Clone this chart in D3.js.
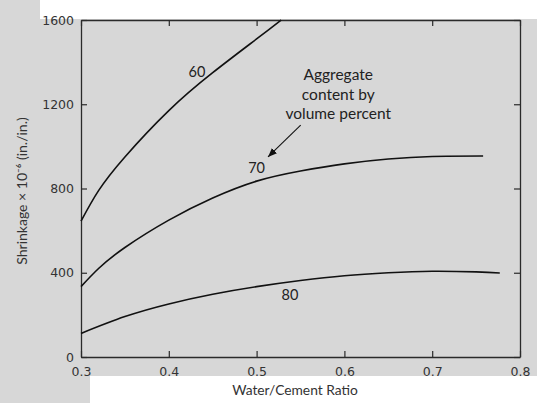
<!DOCTYPE html>
<html>
<head>
<meta charset="utf-8">
<script src="https://cdn.jsdelivr.net/npm/d3@7"></script>
<style>
  html, body { margin: 0; padding: 0; background: #ffffff; }
  svg { display: block; }
</style>
</head>
<body>
<svg id="chart" width="537" height="403"></svg>
<script>
// ---- data ----
const xTicks = [0.3, 0.4, 0.5, 0.6, 0.7, 0.8];
const yTicks = [0, 400, 800, 1200, 1600];

const wc60 = [0.300, 0.320, 0.350, 0.400, 0.450, 0.500, 0.528];
const sh60 = [645, 790, 950, 1170, 1350, 1510, 1600];

const wc70 = [0.300, 0.320, 0.350, 0.400, 0.450, 0.500, 0.550, 0.600, 0.650, 0.700, 0.758];
const sh70 = [334, 420, 520, 650, 755, 835, 883, 917, 940, 952, 954];

const wc80 = [0.300, 0.350, 0.400, 0.450, 0.500, 0.550, 0.600, 0.650, 0.700, 0.750, 0.777];
const sh80 = [112, 192, 252, 298, 334, 363, 386, 400, 407, 404, 399];

const seriesNames = ["60", "70", "80"];
const labelX = [0.432, 0.500, 0.538];
const labelY = [1353, 897, 294];

const noteLines = ["Aggregate", "content by", "volume percent"];

// ---- layout ----
const svg = d3.select("#chart");
const W = 537, H = 403;
const x = d3.scaleLinear().domain([0.3, 0.8]).range([81, 520]);
const y = d3.scaleLinear().domain([0, 1600]).range([357, 20]);

// watermark-like background
const bg = svg.append("g");
bg.append("rect").attr("width", W).attr("height", H).attr("fill", "#d7d7d7");
bg.append("rect").attr("x", 40).attr("y", 0).attr("width", W - 40).attr("height", 19).attr("fill", "#fff");
bg.append("rect").attr("x", 90).attr("y", 376).attr("width", W - 90).attr("height", 27).attr("fill", "#fff");

const axisColor = "#2a2a2a";
const tickFont = "'DejaVu Sans', sans-serif";

// axes
const gx = svg.append("g").attr("transform", `translate(0,${y(0)})`)
  .call(d3.axisBottom(x).tickValues(xTicks).tickFormat(d3.format(".1f")).tickSize(-6).tickPadding(10).tickSizeOuter(0));
const gxTop = svg.append("g").attr("transform", `translate(0,${y(1600)})`)
  .call(d3.axisTop(x).tickValues(xTicks).tickFormat("").tickSize(-6).tickSizeOuter(0));
const gy = svg.append("g").attr("transform", `translate(${x(0.3)},0)`)
  .call(d3.axisLeft(y).tickValues(yTicks).tickFormat(d3.format("d")).tickSize(-6).tickPadding(7).tickSizeOuter(0));
const gyR = svg.append("g").attr("transform", `translate(${x(0.8)},0)`)
  .call(d3.axisRight(y).tickValues(yTicks).tickFormat("").tickSize(-6).tickSizeOuter(0));

[gx, gxTop, gy, gyR].forEach(g => {
  g.selectAll(".domain").attr("stroke", axisColor).attr("stroke-width", 1.3);
  g.selectAll(".tick line").attr("stroke", axisColor).attr("stroke-width", 1.2);
  g.selectAll(".tick text").attr("fill", "#333").style("font-family", tickFont).style("font-size", "12.5px");
});

// curves
const line = d3.line().x(d => x(d[0])).y(d => y(d[1])).curve(d3.curveNatural);
const series = [d3.zip(wc60, sh60), d3.zip(wc70, sh70), d3.zip(wc80, sh80)];
svg.append("g").selectAll("path").data(series).join("path")
  .attr("d", line).attr("fill", "none").attr("stroke", "#111").attr("stroke-width", 1.6);

// curve labels
const humanist = "Lato, 'Open Sans', sans-serif";
svg.append("g").selectAll("text").data(seriesNames).join("text")
  .attr("x", (d, i) => x(labelX[i])).attr("y", (d, i) => y(labelY[i]))
  .attr("dy", "0.35em").attr("text-anchor", "middle")
  .style("font-family", humanist).style("font-size", "14.5px").attr("fill", "#222")
  .text(d => d);

// annotation
svg.append("g").selectAll("text").data(noteLines).join("text")
  .attr("x", x(0.593)).attr("y", (d, i) => y(1315) + i * 19.5)
  .attr("text-anchor", "middle")
  .style("font-family", humanist).style("font-size", "15.5px").attr("fill", "#222")
  .text(d => d);

svg.append("defs").append("marker").attr("id", "arr")
  .attr("viewBox", "0 0 10 10").attr("refX", 10).attr("refY", 5)
  .attr("markerWidth", 9).attr("markerHeight", 9).attr("markerUnits", "userSpaceOnUse")
  .attr("orient", "auto")
  .append("path").attr("d", "M0,1 L10,5 L0,9 Z").attr("fill", "#111");
svg.append("line")
  .attr("x1", x(0.5502)).attr("y1", y(1101)).attr("x2", x(0.513)).attr("y2", y(950))
  .attr("stroke", "#111").attr("stroke-width", 1.1).attr("marker-end", "url(#arr)");

// axis titles
svg.append("text").attr("x", 295).attr("y", 395).attr("text-anchor", "middle")
  .style("font-family", humanist).style("font-size", "13.8px").attr("fill", "#333")
  .text("Water/Cement Ratio");
svg.append("text").attr("transform", "translate(27,191) rotate(-90)").attr("text-anchor", "middle")
  .style("font-family", humanist).style("font-size", "14px").attr("fill", "#333")
  .text("Shrinkage × 10⁻⁶ (in./in.)");
</script>
</body>
</html>
